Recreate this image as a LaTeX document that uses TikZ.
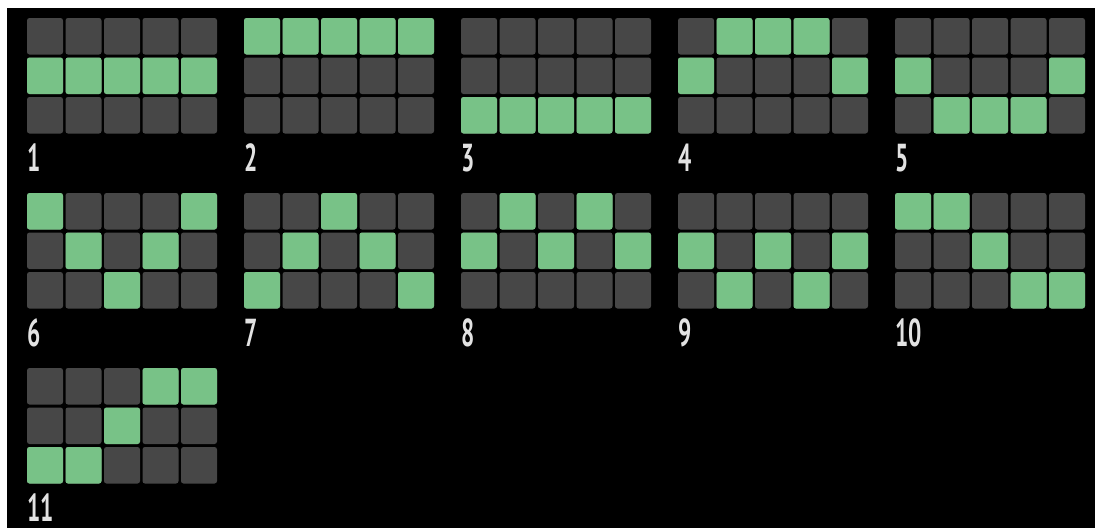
\documentclass[tikz,border=0pt]{standalone}
\usepackage{fontspec}
\setmainfont{PT Sans}
\definecolor{cellgray}{HTML}{474747}
\definecolor{cellgreen}{HTML}{78C287}
\definecolor{labelgray}{HTML}{E2E2E2}
\begin{document}
\begin{tikzpicture}[x=1pt,y=-1pt,
  cellbox/.style={fill=cellgray,rounded corners=2.5pt},
  onbox/.style={fill=cellgreen,rounded corners=2.5pt},
  numlabel/.style={anchor=base west,inner sep=0pt,text=labelgray,font=\bfseries\fontsize{39}{39}\selectfont}]
\useasboundingbox (0,0) rectangle (1095,528);
\fill[white] (0,0) rectangle (1095,528);
\fill[black] (7,8) rectangle (1095,528);
\foreach \n/\gx/\gy/\cells in {
  1/0/0/{0/1,1/1,2/1,3/1,4/1},
  2/1/0/{0/0,1/0,2/0,3/0,4/0},
  3/2/0/{0/2,1/2,2/2,3/2,4/2},
  4/3/0/{1/0,2/0,3/0,0/1,4/1},
  5/4/0/{0/1,4/1,1/2,2/2,3/2},
  6/0/1/{0/0,4/0,1/1,3/1,2/2},
  7/1/1/{2/0,1/1,3/1,0/2,4/2},
  8/2/1/{1/0,3/0,0/1,2/1,4/1},
  9/3/1/{0/1,2/1,4/1,1/2,3/2},
  10/4/1/{0/0,1/0,2/1,3/2,4/2},
  11/0/2/{3/0,4/0,2/1,0/2,1/2}}
{
  \pgfmathsetmacro{\ox}{27+217*\gx}
  \pgfmathsetmacro{\oy}{18+175*\gy}
  \foreach \c in {0,...,4}{
    \foreach \r in {0,1,2}{
      \fill[cellbox] ({\ox+38.5*\c},{\oy+39.5*\r}) rectangle ++(36,36.5);
    }
  }
  \foreach \c/\r in \cells{
    \fill[onbox] ({\ox+38.5*\c},{\oy+39.5*\r}) rectangle ++(36,36.5);
  }
  \node[numlabel] (lab\n) at ({\ox+0.5},{\oy+153}) {\scalebox{0.6}[1]{\n}};
}
\end{tikzpicture}
\end{document}
